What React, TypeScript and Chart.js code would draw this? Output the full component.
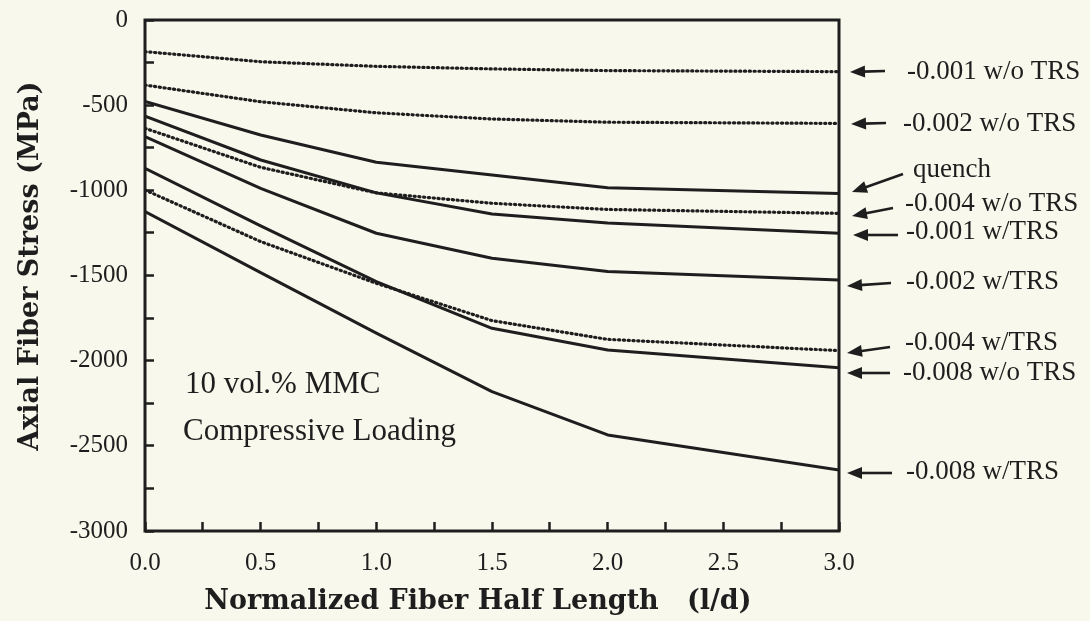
import React, { useEffect, useRef } from "react";
import { Chart, registerables } from "chart.js";

Chart.register(...registerables);

// ---- data ----
const xValues = [0, 0.5, 1.0, 1.5, 2.0, 3.0];

const s001woTRS = [-186, -245, -272, -287, -297, -303];
const s002woTRS = [-382, -480, -545, -581, -600, -607];
const sQuench = [-478, -675, -835, -910, -985, -1018];
const s004woTRS = [-636, -865, -1015, -1076, -1112, -1135];
const s001wTRS = [-564, -822, -1015, -1139, -1192, -1252];
const s002wTRS = [-685, -988, -1252, -1399, -1477, -1526];
const s004wTRS = [-998, -1301, -1546, -1765, -1875, -1941];
const s008woTRS = [-871, -1209, -1536, -1810, -1937, -2041];
const s008wTRS = [-1125, -1483, -1838, -2182, -2436, -2642];

const xTickLabels = ["0.0", "0.5", "1.0", "1.5", "2.0", "2.5", "3.0"];
const yTickLabels = ["0", "-500", "-1000", "-1500", "-2000", "-2500", "-3000"];

const series = [
  { name: "-0.001 w/o TRS", values: s001woTRS, dotted: true },
  { name: "-0.002 w/o TRS", values: s002woTRS, dotted: true },
  { name: "quench", values: sQuench, dotted: false },
  { name: "-0.004 w/o TRS", values: s004woTRS, dotted: true },
  { name: "-0.001 w/TRS", values: s001wTRS, dotted: false },
  { name: "-0.002 w/TRS", values: s002wTRS, dotted: false },
  { name: "-0.004 w/TRS", values: s004wTRS, dotted: true },
  { name: "-0.008 w/o TRS", values: s008woTRS, dotted: false },
  { name: "-0.008 w/TRS", values: s008wTRS, dotted: false },
];

// ---- layout / style of annotations (pixels) ----
const annotations = [
  { text: "-0.001 w/o TRS", tx: 907, ty: 72, ax1: 885, ay1: 71, ax2: 850, ay2: 72 },
  { text: "-0.002 w/o TRS", tx: 903, ty: 124, ax1: 886, ay1: 123, ax2: 851, ay2: 124 },
  { text: "quench", tx: 913, ty: 170, ax1: 903, ay1: 174, ax2: 852, ay2: 192 },
  { text: "-0.004 w/o TRS", tx: 905, ty: 204, ax1: 893, ay1: 208, ax2: 852, ay2: 216 },
  { text: "-0.001 w/TRS", tx: 906, ty: 232, ax1: 898, ay1: 235, ax2: 853, ay2: 235 },
  { text: "-0.002 w/TRS", tx: 906, ty: 282, ax1: 891, ay1: 283, ax2: 847, ay2: 286 },
  { text: "-0.004 w/TRS", tx: 905, ty: 343, ax1: 890, ay1: 347, ax2: 847, ay2: 353 },
  { text: "-0.008 w/o TRS", tx: 903, ty: 373, ax1: 890, ay1: 373, ax2: 847, ay2: 373 },
  { text: "-0.008 w/TRS", tx: 906, ty: 472, ax1: 892, ay1: 473, ax2: 847, ay2: 473 },
];

const innerNotes = [
  { text: "10 vol.% MMC", x: 185, y: 385 },
  { text: "Compressive Loading", x: 183, y: 432 },
];

const INK = "#1e1e1e";
const BG = "#f8f8ec";
const SERIF = "'Liberation Serif', 'Times New Roman', serif";
const BOLD_SERIF = "'DejaVu Serif', serif";

const framePlugin = {
  id: "frameAndNotes",
  afterDraw(chart: any) {
    const { ctx, chartArea } = chart;
    ctx.save();
    // frame
    ctx.strokeStyle = INK;
    ctx.lineWidth = 3;
    ctx.strokeRect(chartArea.left, chartArea.top, chartArea.right - chartArea.left, chartArea.bottom - chartArea.top);

    // inner notes
    ctx.fillStyle = INK;
    ctx.font = `31px ${SERIF}`;
    ctx.textAlign = "left";
    ctx.textBaseline = "middle";
    innerNotes.forEach((n) => ctx.fillText(n.text, n.x, n.y));

    // right annotations with arrows
    ctx.font = `27px ${SERIF}`;
    annotations.forEach((a) => {
      ctx.fillText(a.text, a.tx, a.ty);
      const ang = Math.atan2(a.ay2 - a.ay1, a.ax2 - a.ax1);
      const headLen = 15;
      const headW = 6;
      const bx = a.ax2 - headLen * Math.cos(ang);
      const by = a.ay2 - headLen * Math.sin(ang);
      ctx.strokeStyle = INK;
      ctx.lineWidth = 2.6;
      ctx.beginPath();
      ctx.moveTo(a.ax1, a.ay1);
      ctx.lineTo(bx + 2 * Math.cos(ang), by + 2 * Math.sin(ang));
      ctx.stroke();
      ctx.beginPath();
      ctx.moveTo(a.ax2, a.ay2);
      ctx.lineTo(bx + headW * Math.sin(ang), by - headW * Math.cos(ang));
      ctx.lineTo(bx - headW * Math.sin(ang), by + headW * Math.cos(ang));
      ctx.closePath();
      ctx.fill();
    });
    ctx.restore();
  },
};

export default function App() {
  const ref = useRef<HTMLCanvasElement>(null);

  useEffect(() => {
    const canvas = ref.current;
    if (!canvas) return;
    const chart = new Chart(canvas, {
      type: "line",
      data: {
        datasets: series.map((s) => ({
          label: s.name,
          data: xValues.map((x, i) => ({ x, y: s.values[i] })),
          borderColor: INK,
          borderWidth: s.dotted ? 3.2 : 3,
          borderDash: s.dotted ? [1.2, 3.6] : [],
          borderCapStyle: s.dotted ? "round" : "butt",
          borderJoinStyle: "round",
          pointRadius: 0,
          tension: 0,
          fill: false,
        })),
      },
      options: {
        responsive: false,
        animation: false,
        devicePixelRatio: 1,
        layout: { padding: { left: 0, right: 251, top: 20, bottom: 0 } },
        plugins: {
          legend: { display: false },
          tooltip: { enabled: false },
        },
        scales: {
          x: {
            type: "linear",
            min: 0,
            max: 3,
            afterFit: (s: any) => {
              s.height = 90;
              s.paddingLeft = 0;
              s.paddingRight = 0;
            },
            border: { display: false },
            grid: {
              drawOnChartArea: false,
              drawTicks: true,
              tickLength: -9,
              tickColor: INK,
              tickWidth: 2.5,
            },
            ticks: {
              stepSize: 0.25,
              autoSkip: false,
              maxRotation: 0,
              padding: 26,
              color: INK,
              font: { family: SERIF, size: 25 },
              callback: (v: any) => {
                const idx = Math.round(Number(v) / 0.5);
                return Math.abs(Number(v) - idx * 0.5) < 1e-6 ? xTickLabels[idx] : "";
              },
            },
            title: {
              display: true,
              text: "Normalized Fiber Half Length   (l/d)   ",
              color: INK,
              font: { family: BOLD_SERIF, size: 27, weight: "bold" },
              padding: { top: 0, bottom: 3 },
            },
          },
          y: {
            type: "linear",
            min: -3000,
            max: 0,
            afterFit: (s: any) => {
              s.width = 145;
              s.paddingTop = 0;
              s.paddingBottom = 0;
            },
            border: { display: false },
            grid: {
              drawOnChartArea: false,
              drawTicks: true,
              tickLength: -9,
              tickColor: INK,
              tickWidth: 2.5,
            },
            ticks: {
              stepSize: 250,
              autoSkip: false,
              padding: 26,
              color: INK,
              font: { family: SERIF, size: 25 },
              callback: (v: any) => {
                const idx = Math.round(-Number(v) / 500);
                return Math.abs(-Number(v) - idx * 500) < 1e-6 ? yTickLabels[idx] : "";
              },
            },
            title: {
              display: true,
              text: "  Axial Fiber Stress (MPa)",
              color: INK,
              font: { family: BOLD_SERIF, size: 27, weight: "bold" },
              padding: { top: 15, bottom: 0 },
            },
          },
        },
      },
      plugins: [framePlugin],
    } as any);
    return () => chart.destroy();
  }, []);

  return (
    <div style={{ position: "fixed", left: 0, top: 0, width: 1090, height: 621, background: BG }}>
      <canvas ref={ref} width={1090} height={621} style={{ display: "block", width: 1090, height: 621 }} />
    </div>
  );
}
